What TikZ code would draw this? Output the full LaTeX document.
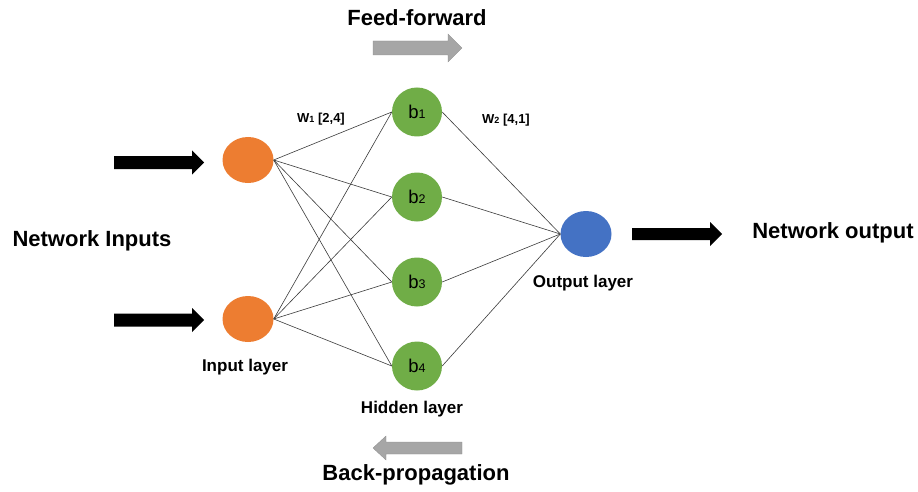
\documentclass[tikz,border=0pt]{standalone}
\usepackage{fontspec}
\setmainfont{Liberation Sans}
\usetikzlibrary{shapes.geometric}

\definecolor{inorange}{HTML}{ED7D31}
\definecolor{hidgreen}{HTML}{70AD47}
\definecolor{outblue}{HTML}{4472C4}
\definecolor{flowgray}{HTML}{A6A6A6}
\definecolor{wiregray}{HTML}{3A3A3A}

\tikzset{
  neuron/.style={ellipse, draw=none, inner sep=0pt},
  inneuron/.style={neuron, fill=inorange, minimum width=51pt, minimum height=46pt},
  hidneuron/.style={neuron, fill=hidgreen, minimum width=50pt, minimum height=49pt,
    font=\fontsize{18.5}{18.5}\selectfont},
  outneuron/.style={neuron, fill=outblue, minimum width=51pt, minimum height=46pt},
  wire/.style={draw=wiregray, line width=0.6pt},
  biglabel/.style={font=\fontsize{22}{22}\selectfont\bfseries, inner sep=0pt},
  layerlabel/.style={font=\fontsize{17}{17}\selectfont\bfseries, inner sep=0pt},
  weightlabel/.style={font=\fontsize{13}{13}\selectfont\bfseries, inner sep=0pt},
  blackarrow/.style={fill=black, draw=none},
  grayarrow/.style={fill=flowgray, draw=flowgray!85!black, line width=0.3pt},
}
\newcommand{\smalldigit}[1]{{\fontsize{12.5}{12.5}\selectfont #1}}

\begin{document}
\begin{tikzpicture}[x=1pt, y=-1pt]
  \useasboundingbox (0,0) rectangle (918,492);

  % neurons
  \node[inneuron] (i1) at (248,160) {};
  \node[inneuron] (i2) at (248,319) {};
  \node[hidneuron] (h1) at (417,112) {b\smalldigit{1}};
  \node[hidneuron] (h2) at (417,197) {b\smalldigit{2}};
  \node[hidneuron] (h3) at (417,282) {b\smalldigit{3}};
  \node[hidneuron] (h4) at (417,366) {b\smalldigit{4}};
  \node[outneuron] (o1) at (586,234) {};

  % weights between layers
  \foreach \i in {1,2}
    \foreach \h in {1,2,3,4}
      \draw[wire] (i\i.east) -- (h\h.west);
  \foreach \h in {1,2,3,4}
    \draw[wire] (h\h.east) -- (o1.west);

  % labels
  \node[biglabel] (ff) at (417,18) {Feed-forward};
  \node[biglabel] (bp) at (416,475) {Back-propagation};
  \node[biglabel] (ni) at (92,241) {Network Inputs};
  \node[biglabel] (no) at (833,233) {Network output};
  \node[layerlabel] (il) at (245,367) {Input layer};
  \node[layerlabel] (hl) at (412,409) {Hidden layer};
  \node[layerlabel] (ol) at (583,283) {Output layer};
  \node[weightlabel] (w1) at (321,119) {W{\fontsize{9}{9}\selectfont 1} [2,4]};
  \node[weightlabel] (w2) at (506,120) {W{\fontsize{9}{9}\selectfont 2} [4,1]};

  % black input / output arrows
  \fill[blackarrow] (114,156) -- (192,156) -- (192,150.5) -- (204,162.5) -- (192,174.5)
    -- (192,169) -- (114,169) -- cycle;
  \fill[blackarrow] (114,313.5) -- (192,313.5) -- (192,308) -- (204,320) -- (192,332)
    -- (192,326.5) -- (114,326.5) -- cycle;
  \fill[blackarrow] (632,228) -- (710,228) -- (710,222) -- (722,234) -- (710,246)
    -- (710,240) -- (632,240) -- cycle;

  % gray direction arrows
  \filldraw[grayarrow] (373,41) -- (448,41) -- (448,34) -- (462,48) -- (448,62)
    -- (448,55) -- (373,55) -- cycle;
  \filldraw[grayarrow] (462,442) -- (386,442) -- (386,436) -- (373,448) -- (386,460)
    -- (386,454) -- (462,454) -- cycle;
\end{tikzpicture}
\end{document}
